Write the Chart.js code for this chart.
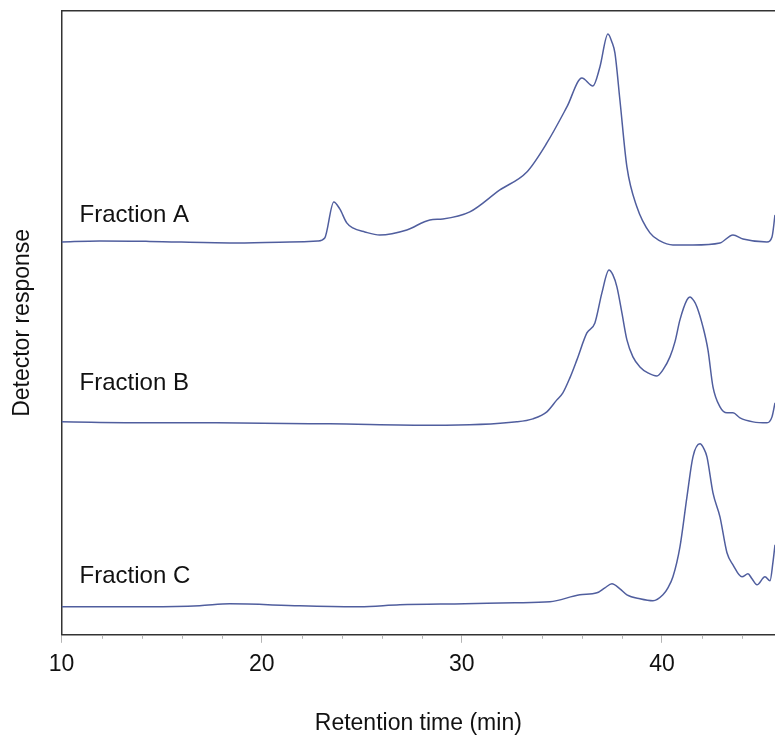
<!DOCTYPE html>
<html lang="en">
<head>
    <meta charset="UTF-8">
    <title>Chromatograms</title>
    <style>
        body {
            margin: 0;
            background: white;
        }

        #wrap {
            width: 775px;
            height: 742px;
        }
    </style>
</head>
<body>
    <div id="wrap"><canvas id="chart"></canvas></div>

    <script src="https://cdn.jsdelivr.net/npm/chart.js@4.4.1/dist/chart.umd.min.js"></script>
    <script type="text/javascript">
        // retention time (min) and detector response above each trace's baseline
        var timesA = [10.0, 11.9, 14.4, 18.4, 21.4, 22.8, 23.15, 23.6, 23.9, 24.25, 24.55, 25.15, 25.9, 27.25, 28.4, 29.05, 30.4, 31.9, 33.25, 34.25, 35.25, 36.0, 36.55, 36.9, 37.3, 37.5, 37.65, 37.9, 38.25, 38.75, 39.4, 39.9, 40.55, 41.55, 42.9, 43.55, 44.05, 45.25, 45.5, 45.65];
        var respA = [0, 1, 0.5, -1, 0, 1, 4, 40, 33, 19, 14, 10, 7, 12, 22, 23, 30, 52, 70, 99, 135, 164, 156, 175, 208, 200, 189, 142, 75, 35, 9, 1, -3, -3, -1, 7, 3, 0, 5, 27];

        var timesB = [10.0, 14.4, 17.75, 23.4, 28.55, 32.75, 33.55, 34.25, 34.75, 35.05, 35.4, 35.75, 36.25, 36.65, 37.0, 37.35, 37.55, 37.75, 38.0, 38.25, 38.55, 38.9, 39.3, 39.75, 40.05, 40.4, 40.65, 40.9, 41.25, 41.4, 41.6, 41.75, 42.05, 42.3, 42.55, 42.9, 43.25, 43.55, 43.9, 44.55, 45.25, 45.5, 45.65];
        var respB = [1, 0, 0, -1, -2.5, 1, 4, 11, 23, 30, 45, 63, 90, 100, 130, 153, 148, 136, 110, 83, 66, 56, 50, 47, 53, 66, 81, 103, 123, 126, 122, 116, 96, 73, 36, 16, 10, 10, 5, 1, 0, 6, 20];

        var timesC = [10.0, 11.9, 14.4, 16.9, 18.4, 21.9, 24.9, 26.9, 30.15, 32.65, 34.4, 35.9, 36.75, 37.15, 37.5, 37.9, 38.25, 38.9, 39.55, 40.05, 40.3, 40.55, 40.9, 41.25, 41.55, 41.9, 42.1, 42.25, 42.55, 42.9, 43.25, 43.55, 44.0, 44.3, 44.5, 44.75, 45.15, 45.4, 45.55, 45.65];
        var respC = [0, 0, 0, 1, 3, 1, 0, 2, 3, 4, 5, 12, 14, 19, 23, 18, 12, 8, 6, 12, 19, 30, 60, 110, 150, 163, 158, 150, 114, 90, 54, 42, 30, 33, 28, 22, 30, 26, 45, 62];

        var fractionNames = ['Fraction A', 'Fraction B', 'Fraction C'];
        var baselines = [393, 212, 28];
        var xTicks = [10, 20, 30, 40];
        var minorTicks = [12, 14, 16, 18, 22, 24, 26, 28, 32, 34, 36, 38, 42, 44];

        var FONT = 'Arial, "Liberation Sans", sans-serif';
        var TRACE = 'rgb(80, 94, 158)';

        function toPoints(times, resp, base) {
            return times.map(function(t, i) {
                return { x: t, y: resp[i] + base };
            });
        }

        // short ticks between the labelled ones, and the fraction names
        var decorations = {
            id: 'decorations',
            afterDraw: function(chart) {
                var ctx = chart.ctx;
                var xs = chart.scales.x;
                var ys = chart.scales.y;
                var bottom = chart.chartArea.bottom;
                ctx.save();
                ctx.strokeStyle = '#b4b4b4';
                ctx.lineWidth = 1;
                minorTicks.forEach(function(v) {
                    var px = Math.round(xs.getPixelForValue(v)) + 0.5;
                    ctx.beginPath();
                    ctx.moveTo(px, bottom + 1);
                    ctx.lineTo(px, bottom + 4);
                    ctx.stroke();
                });
                ctx.fillStyle = '#111';
                ctx.font = '24px ' + FONT;
                ctx.textBaseline = 'middle';
                var labelY = [420, 252, 58];
                fractionNames.forEach(function(name, i) {
                    ctx.fillText(name, xs.getPixelForValue(10.9), ys.getPixelForValue(labelY[i]));
                });
                ctx.restore();
            }
        };

        var datasets = [
            [timesA, respA],
            [timesB, respB],
            [timesC, respC]
        ].map(function(d, i) {
            return {
                label: fractionNames[i],
                data: toPoints(d[0], d[1], baselines[i]),
                borderColor: TRACE,
                borderWidth: 1.5,
                pointRadius: 0,
                fill: false,
                cubicInterpolationMode: 'monotone'
            };
        });

        new Chart(document.getElementById('chart'), {
            type: 'line',
            data: { datasets: datasets },
            plugins: [decorations],
            options: {
                responsive: true,
                maintainAspectRatio: false,
                animation: false,
                layout: { padding: { top: 11, right: 0, bottom: 0, left: 0 } },
                plugins: {
                    legend: { display: false },
                    tooltip: { enabled: false }
                },
                scales: {
                    x: {
                        type: 'linear',
                        min: 10,
                        max: 45.65,
                        afterBuildTicks: function(scale) {
                            scale.ticks = xTicks.map(function(v) { return { value: v }; });
                        },
                        ticks: {
                            color: '#111',
                            font: { family: FONT, size: 23 },
                            padding: 8,
                            maxRotation: 0,
                            autoSkip: false
                        },
                        grid: {
                            drawOnChartArea: false,
                            tickLength: 8,
                            tickColor: '#b4b4b4'
                        },
                        border: { color: '#333', width: 1.5 },
                        title: {
                            display: true,
                            text: 'Retention time (min)',
                            color: '#111',
                            font: { family: FONT, size: 23 },
                            padding: { top: 23, bottom: 5 }
                        }
                    },
                    xTop: {
                        type: 'linear',
                        position: 'top',
                        min: 10,
                        max: 45.65,
                        ticks: { display: false },
                        grid: { drawOnChartArea: false, drawTicks: false },
                        border: { color: '#333', width: 1.5 }
                    },
                    y: {
                        min: 0,
                        max: 624,
                        ticks: { display: false },
                        grid: { drawOnChartArea: false, drawTicks: false },
                        border: { color: '#333', width: 1.5 },
                        title: {
                            display: true,
                            text: 'Detector response',
                            color: '#111',
                            font: { family: FONT, size: 23 },
                            padding: { top: 9, bottom: 25 }
                        }
                    }
                }
            }
        });
    </script>
</body>
</html>
